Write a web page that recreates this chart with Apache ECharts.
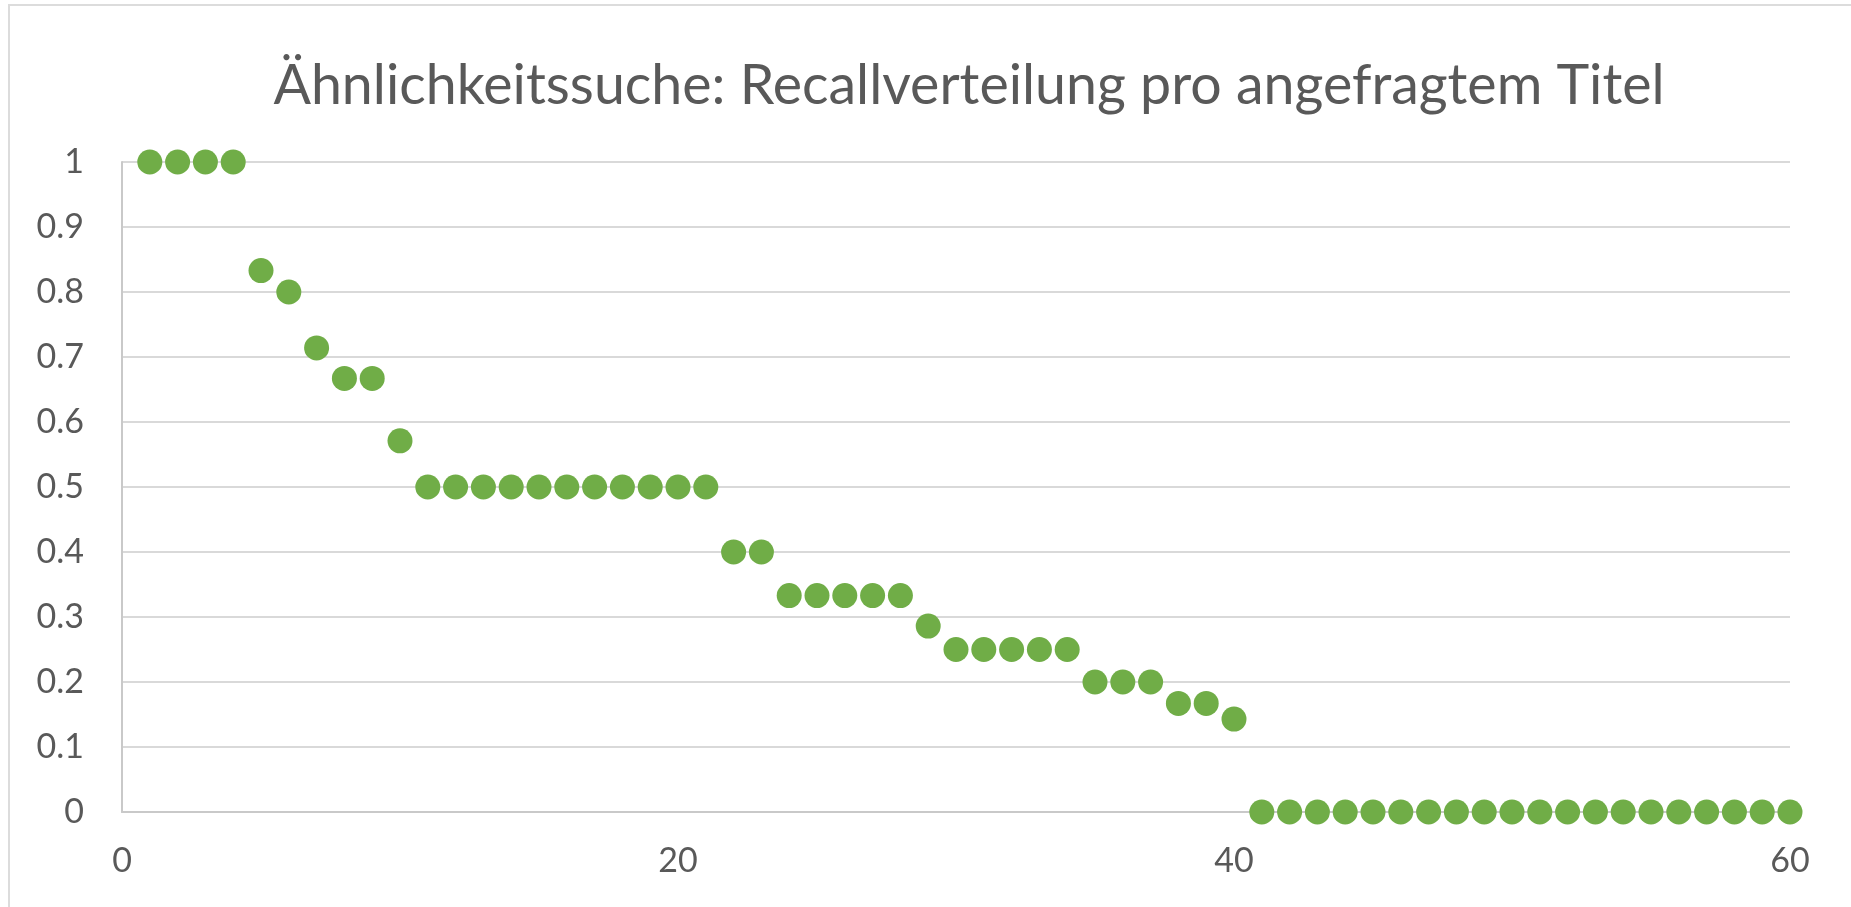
<!DOCTYPE html>
<html>
<head>
<meta charset="utf-8">
<title>Ähnlichkeitssuche</title>
<script src="https://cdn.jsdelivr.net/npm/echarts@6/dist/echarts.min.js"></script>
<style>
  html, body { margin: 0; padding: 0; background: #fff; }
  #chart { width: 1851px; height: 907px; }
</style>
</head>
<body>
<div id="chart"></div>
<script>
const TITLE = "Ähnlichkeitssuche: Recallverteilung pro angefragtem Titel";

// query title index (1..60) and recall per title
const titleIndex = [
  1, 2, 3, 4, 5, 6, 7, 8, 9, 10,
  11, 12, 13, 14, 15, 16, 17, 18, 19, 20,
  21, 22, 23, 24, 25, 26, 27, 28, 29, 30,
  31, 32, 33, 34, 35, 36, 37, 38, 39, 40,
  41, 42, 43, 44, 45, 46, 47, 48, 49, 50,
  51, 52, 53, 54, 55, 56, 57, 58, 59, 60
];
const recall = [
  1, 1, 1, 1, 0.833, 0.8, 0.714, 0.667, 0.667, 0.571,
  0.5, 0.5, 0.5, 0.5, 0.5, 0.5, 0.5, 0.5, 0.5, 0.5,
  0.5, 0.4, 0.4, 0.333, 0.333, 0.333, 0.333, 0.333, 0.286, 0.25,
  0.25, 0.25, 0.25, 0.25, 0.2, 0.2, 0.2, 0.167, 0.167, 0.143,
  0, 0, 0, 0, 0, 0, 0, 0, 0, 0,
  0, 0, 0, 0, 0, 0, 0, 0, 0, 0
];

const GREEN = "#70ad47";
const TEXT = "#595959";
const GRID = "#d9d9d9";
const AXIS = "#c9c9c9";
const FONT = "Lato";

const chart = echarts.init(document.getElementById("chart"), null, { renderer: "canvas" });

chart.setOption({
  animation: false,
  backgroundColor: "#fff",
  textStyle: { fontFamily: FONT },
  title: {
    text: TITLE,
    left: 964,
    top: 53,
    textAlign: "center",
    textStyle: { color: TEXT, fontFamily: FONT, fontSize: 55.5, fontWeight: "normal" },
  },
  // light frame of the chart area
  graphic: [
    {
      type: "rect",
      silent: true,
      shape: { x: 9, y: 5, width: 1900, height: 1000 },
      style: { fill: "none", stroke: "#dcdcdc", lineWidth: 2 },
    },
  ],
  grid: { left: 122, right: 61, top: 162, bottom: 95 },
  xAxis: {
    type: "value",
    min: 0,
    max: 60,
    interval: 20,
    axisLine: { show: true, lineStyle: { color: AXIS, width: 2 } },
    axisTick: { show: false },
    splitLine: { show: false },
    axisLabel: { color: TEXT, fontSize: 34, fontFamily: FONT, margin: 32 },
  },
  yAxis: {
    type: "value",
    min: 0,
    max: 1,
    interval: 0.1,
    axisLine: { show: true, lineStyle: { color: AXIS, width: 2 } },
    axisTick: { show: false },
    splitLine: { lineStyle: { color: GRID, width: 2 } },
    axisLabel: { color: TEXT, fontSize: 34, fontFamily: FONT, margin: 38 },
  },
  series: [
    {
      name: "Recall",
      type: "scatter",
      data: titleIndex.map((t, i) => [t, recall[i]]),
      symbol: "circle",
      symbolSize: 25,
      itemStyle: { color: GREEN, opacity: 1 },
    },
  ],
});
</script>
</body>
</html>
